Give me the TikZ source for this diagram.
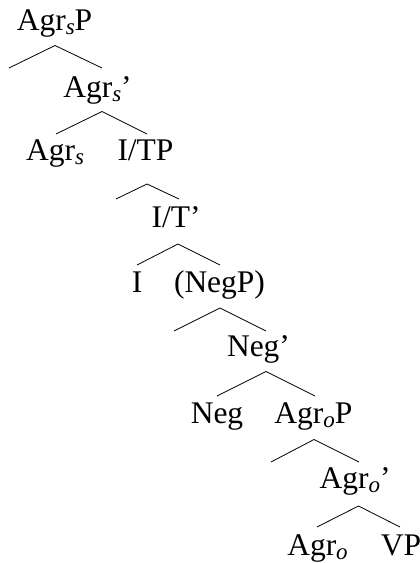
\documentclass[tikz,border=0pt]{standalone}
\usepackage{fontspec}
\setmainfont{Liberation Serif}
\usepackage{tikz}
\usetikzlibrary{positioning}

\newcommand{\sub}[1]{\raisebox{-4pt}{\fontsize{23}{24}\selectfont\itshape #1}}

\begin{document}
\begin{tikzpicture}[
    x=1pt, y=-1pt,
    cat/.style={inner sep=0pt, anchor=base, font=\fontsize{31.5}{36}\selectfont},
    branch/.style={line width=0.8pt}
]
\useasboundingbox (0,0) rectangle (420,563);

% Categories
\node[cat] (agrsp) at (54.5,30) {Agr\sub{s}P};
\node[cat] (agrsbar) at (97.5,97) {Agr\sub{s}'};
\node[cat] (agrs) at (55,160) {Agr\sub{s}};
\node[cat] (itp) at (145.5,160) {I/TP};
\node[cat] (itbar) at (176,227) {I/T'};
\node[cat] (ihead) at (137,292) {I};
\node[cat] (negp) at (219.5,292) {(NegP)};
\node[cat] (negbar) at (258.5,356) {Neg'};
\node[cat] (neg) at (217,423) {Neg};
\node[cat] (agrop) at (313.5,423) {Agr\sub{o}P};
\node[cat] (agrobar) at (355,488) {Agr\sub{o}'};
\node[cat] (agro) at (317.5,555) {Agr\sub{o}};
\node[cat] (vp) at (401,555) {VP};

% Branch points
\coordinate (top1) at (55,45.5);   \coordinate (left1) at (9,68);    \coordinate (right1) at (102,68);
\coordinate (top2) at (102,111.5); \coordinate (left2) at (56,134);  \coordinate (right2) at (147,134);
\coordinate (top3) at (147,184);   \coordinate (left3) at (116,199); \coordinate (right3) at (179,199);
\coordinate (top4) at (178,244);   \coordinate (left4) at (137,265); \coordinate (right4) at (220,265);
\coordinate (top5) at (220,308);   \coordinate (left5) at (174,331); \coordinate (right5) at (266,331);
\coordinate (top6) at (266,371.5); \coordinate (left6) at (217,396); \coordinate (right6) at (315,396);
\coordinate (top7) at (314,439.5); \coordinate (left7) at (271,462); \coordinate (right7) at (359,462);
\coordinate (top8) at (358.5,506); \coordinate (left8) at (317,527); \coordinate (right8) at (400,527);

% Branches
\foreach \i in {1,...,8}
    \draw[branch] (left\i) -- (top\i) -- (right\i);

\end{tikzpicture}
\end{document}
